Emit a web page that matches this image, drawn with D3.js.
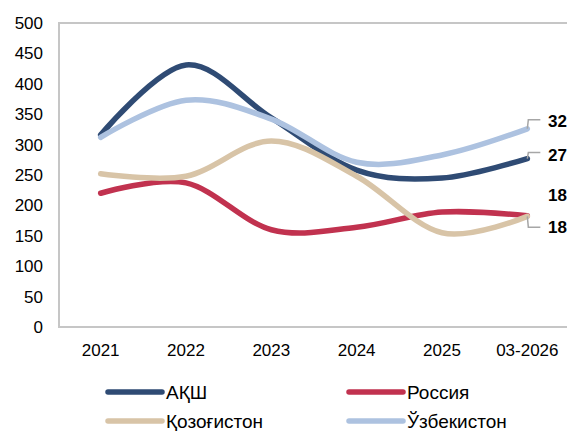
<!DOCTYPE html>
<html>
<head>
<meta charset="utf-8">
<script src="https://cdn.jsdelivr.net/npm/d3@7"></script>
<style>
  body { margin: 0; background: #fff; overflow: hidden; }
  svg { display: block; font-family: "Liberation Sans", Arial, sans-serif; }
</style>
</head>
<body>
<svg width="567" height="431"></svg>
<script>
const YEARS = ["2021", "2022", "2023", "2024", "2025", "03-2026"];
const Y_TICKS = [0, 50, 100, 150, 200, 250, 300, 350, 400, 450, 500];

const USA = [316, 431, 344, 258, 245, 277];
const RUSSIA = [220, 237, 160, 164, 189, 183];
const KAZAKHSTAN = [252, 248, 306, 248, 155, 182];
const UZBEKISTAN = [312, 373, 342, 271, 283, 326];

const SERIES = [
  { name: "АҚШ", values: USA, color: "#2f4b74", labelDy: -4, leader: -6 },
  { name: "Россия", values: RUSSIA, color: "#c1324f", labelDy: -21, leader: 0 },
  { name: "Қозоғистон", values: KAZAKHSTAN, color: "#d8c4a7", labelDy: 11, leader: 11 },
  { name: "Ўзбекистон", values: UZBEKISTAN, color: "#adc2e0", labelDy: -8, leader: -9 },
];

const svg = d3.select("svg");

const x = d3.scaleBand().domain(YEARS).range([58, 570]);
const y = d3.scaleLinear().domain([0, 500]).range([327, 23]);
const cx = (d) => x(d) + x.bandwidth() / 2;

// plot border
svg.append("rect")
  .attr("x", 59).attr("y", 23)
  .attr("width", 520).attr("height", 304)
  .attr("fill", "none")
  .attr("stroke", "#c6c6c6")
  .attr("stroke-width", 2);

// y labels
svg.selectAll(".ytick")
  .data(Y_TICKS)
  .enter()
  .append("text")
  .attr("x", 43)
  .attr("y", (d) => y(d))
  .attr("dy", "0.35em")
  .attr("text-anchor", "end")
  .attr("font-size", 17)
  .attr("fill", "#000")
  .text((d) => d);

// x labels
svg.selectAll(".xtick")
  .data(YEARS)
  .enter()
  .append("text")
  .attr("x", (d) => cx(d))
  .attr("y", 350)
  .attr("dy", "0.35em")
  .attr("text-anchor", "middle")
  .attr("font-size", 17)
  .attr("fill", "#000")
  .text((d) => d);

const line = d3.line()
  .x((d, i) => cx(YEARS[i]))
  .y((d) => y(d))
  .curve(d3.curveCardinal.tension(0));

svg.selectAll(".series")
  .data(SERIES)
  .enter()
  .append("path")
  .attr("d", (s) => line(s.values))
  .attr("fill", "none")
  .attr("stroke", (s) => s.color)
  .attr("stroke-width", 5.5)
  .attr("stroke-linecap", "round")
  .attr("stroke-linejoin", "round");

// end labels with leader lines
const last = YEARS[YEARS.length - 1];
SERIES.forEach((s) => {
  const v = s.values[s.values.length - 1];
  const px = cx(last);
  const py = y(v);
  if (s.leader !== 0) {
    svg.append("path")
      .attr("d", `M${px},${py} L${px + 1},${py + s.leader} L${px + 13},${py + s.leader}`)
      .attr("fill", "none")
      .attr("stroke", "#a6a6a6")
      .attr("stroke-width", 1.5);
  }
  svg.append("text")
    .attr("x", 548)
    .attr("y", py + s.labelDy)
    .attr("dy", "0.35em")
    .attr("font-size", 17)
    .attr("font-weight", "bold")
    .attr("fill", "#000")
    .text(v);
});

// legend
const legend = svg.selectAll(".legend")
  .data(SERIES)
  .enter()
  .append("g")
  .attr("transform", (s, i) => `translate(${i % 2 === 0 ? 108 : 349},${i < 2 ? 392 : 421})`);

legend.append("line")
  .attr("x1", 0).attr("x2", 54)
  .attr("y1", 0).attr("y2", 0)
  .attr("stroke", (s) => s.color)
  .attr("stroke-width", 5.5)
  .attr("stroke-linecap", "round");

legend.append("text")
  .attr("x", 58)
  .attr("y", 0)
  .attr("dy", "0.35em")
  .attr("font-size", 19)
  .attr("fill", "#000")
  .text((s) => s.name);
</script>
</body>
</html>
